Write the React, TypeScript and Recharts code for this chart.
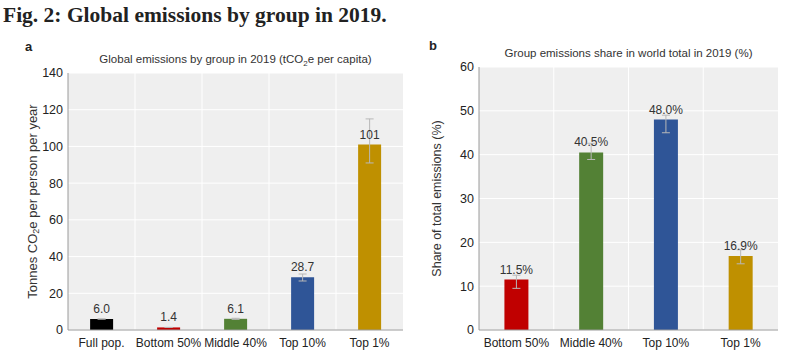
import React from 'react';
import {
  BarChart,
  Bar,
  XAxis,
  YAxis,
  CartesianGrid,
  ErrorBar,
  LabelList,
  Cell,
} from 'recharts';

// panel a: per-capita emissions
const groupsA = ['Full pop.', 'Bottom 50%', 'Middle 40%', 'Top 10%', 'Top 1%'];
const perCapita = [6.0, 1.4, 6.1, 28.7, 101];
const perCapitaLabels = ['6.0', '1.4', '6.1', '28.7', '101'];
const perCapitaErr = [
  [0, 0],
  [0, 0],
  [0.3, 0.3],
  [2, 1.8],
  [10, 14],
];
const colorsA = ['#000000', '#c00000', '#538135', '#2f5597', '#bf9000'];
const ticksA = [0, 20, 40, 60, 80, 100, 120, 140];

// panel b: share of world total
const groupsB = ['Bottom 50%', 'Middle 40%', 'Top 10%', 'Top 1%'];
const share = [11.5, 40.5, 48.0, 16.9];
const shareLabels = ['11.5%', '40.5%', '48.0%', '16.9%'];
const shareErr = [
  [2, 1],
  [1.6, 2.1],
  [3, 1],
  [1.8, 1.4],
];
const colorsB = ['#c00000', '#538135', '#2f5597', '#bf9000'];
const ticksB = [0, 10, 20, 30, 40, 50, 60];

const dataA = groupsA.map((g, i) => ({
  group: g,
  value: perCapita[i],
  label: perCapitaLabels[i],
  err: perCapitaErr[i],
}));
const dataB = groupsB.map((g, i) => ({
  group: g,
  value: share[i],
  label: shareLabels[i],
  err: shareErr[i],
}));

const FONT = '"Liberation Sans", Arial, sans-serif';
const PLOT_BG = '#efefef';
const BORDER = '#9a9a9a';

// vertical grid lines sit between the categories, not on them
const boundaries = (n: number) => (props: any) => {
  const { offset } = props;
  const out: number[] = [];
  for (let i = 1; i < n; i++) out.push(offset.left + (offset.width * i) / n);
  return out;
};

function YLabelA(props: any) {
  const { viewBox } = props;
  const cx = 32;
  const cy = viewBox.y + viewBox.height / 2;
  return (
    <text
      x={cx}
      y={cy}
      transform={`rotate(-90, ${cx}, ${cy})`}
      textAnchor="middle"
      dominantBaseline="central"
      fontSize={13}
      fill="#333"
      fontFamily={FONT}
    >
      Tonnes CO<tspan fontSize={9} dy={4}>2</tspan>
      <tspan dy={-4}>e per person per year</tspan>
    </text>
  );
}

function YLabelB(props: any) {
  const { viewBox } = props;
  const cx = 17;
  const cy = viewBox.y + viewBox.height / 2;
  return (
    <text
      x={cx}
      y={cy}
      transform={`rotate(-90, ${cx}, ${cy})`}
      textAnchor="middle"
      dominantBaseline="central"
      fontSize={12.5}
      fill="#333"
      fontFamily={FONT}
    >
      Share of total emissions (%)
    </text>
  );
}

export default function App() {
  return (
    <div
      style={{
        position: 'absolute',
        left: 0,
        top: 0,
        width: 812,
        height: 358,
        background: '#fff',
        fontFamily: FONT,
      }}
    >
      <div
        style={{
          position: 'absolute',
          left: 3,
          top: 3,
          fontFamily: '"Liberation Serif", serif',
          fontWeight: 'bold',
          fontSize: 21.5,
          color: '#222',
          whiteSpace: 'nowrap',
        }}
      >
        Fig. 2: Global emissions by group in 2019.
      </div>
      <div style={{ position: 'absolute', left: 25, top: 39, fontWeight: 'bold', fontSize: 13, color: '#222' }}>a</div>
      <div style={{ position: 'absolute', left: 429, top: 38, fontWeight: 'bold', fontSize: 13, color: '#222' }}>b</div>
      <div
        style={{
          position: 'absolute',
          left: 68,
          width: 335,
          top: 53,
          textAlign: 'center',
          fontSize: 11.5,
          color: '#333',
          whiteSpace: 'nowrap',
        }}
      >
        Global emissions by group in 2019 (tCO<sub style={{ fontSize: 8 }}>2</sub>e per capita)
      </div>
      <div
        style={{
          position: 'absolute',
          left: 479,
          width: 299,
          top: 47,
          textAlign: 'center',
          fontSize: 11.5,
          color: '#333',
          whiteSpace: 'nowrap',
        }}
      >
        Group emissions share in world total in 2019 (%)
      </div>

      <div style={{ position: 'absolute', left: 0, top: 0 }}>
        <BarChart
          width={420}
          height={358}
          data={dataA}
          margin={{ top: 73, right: 17, left: 0, bottom: 0 }}
          barCategoryGap="33%"
        >
          <CartesianGrid
            fill={PLOT_BG}
            stroke="#ffffff"
            strokeWidth={1}
            verticalCoordinatesGenerator={boundaries(groupsA.length)}
          />
          <XAxis
            dataKey="group"
            height={28}
            tickLine={false}
            axisLine={{ stroke: BORDER }}
            tick={{ fontSize: 12, fill: '#222' }}
            interval={0}
          />
          <XAxis xAxisId="top" orientation="top" dataKey="group" height={0} tick={false} tickLine={false} axisLine={{ stroke: BORDER }} />
          <YAxis
            width={68}
            domain={[0, 140]}
            ticks={ticksA}
            tickLine={false}
            tickSize={3}
            axisLine={{ stroke: BORDER }}
            tick={{ fontSize: 12.5, fill: '#222' }}
            label={<YLabelA />}
          />
          <YAxis yAxisId="right" orientation="right" width={0} domain={[0, 140]} tick={false} tickLine={false} axisLine={{ stroke: BORDER }} />
          <Bar dataKey="value" isAnimationActive={false}>
            {dataA.map((d, i) => (
              <Cell key={d.group} fill={colorsA[i]} />
            ))}
            <ErrorBar dataKey="err" width={4} stroke="#b8b8b8" strokeWidth={1} direction="y" />
            <LabelList dataKey="label" position="top" offset={6} fontSize={12} fill="#333" />
          </Bar>
        </BarChart>
      </div>

      <div style={{ position: 'absolute', left: 420, top: 0 }}>
        <BarChart
          width={392}
          height={358}
          data={dataB}
          margin={{ top: 67, right: 34, left: 0, bottom: 0 }}
          barCategoryGap="34%"
        >
          <CartesianGrid
            fill={PLOT_BG}
            stroke="#ffffff"
            strokeWidth={1}
            verticalCoordinatesGenerator={boundaries(groupsB.length)}
          />
          <XAxis
            dataKey="group"
            height={28}
            tickLine={false}
            axisLine={{ stroke: BORDER }}
            tick={{ fontSize: 12, fill: '#222' }}
            interval={0}
          />
          <XAxis xAxisId="top" orientation="top" dataKey="group" height={0} tick={false} tickLine={false} axisLine={{ stroke: BORDER }} />
          <YAxis
            width={59}
            domain={[0, 60]}
            ticks={ticksB}
            tickLine={false}
            tickSize={3}
            axisLine={{ stroke: BORDER }}
            tick={{ fontSize: 12.5, fill: '#222' }}
            label={<YLabelB />}
          />
          <YAxis yAxisId="right" orientation="right" width={0} domain={[0, 60]} tick={false} tickLine={false} axisLine={{ stroke: BORDER }} />
          <Bar dataKey="value" isAnimationActive={false}>
            {dataB.map((d, i) => (
              <Cell key={d.group} fill={colorsB[i]} />
            ))}
            <ErrorBar dataKey="err" width={4} stroke="#b8b8b8" strokeWidth={1} direction="y" />
            <LabelList dataKey="label" position="top" offset={6} fontSize={12} fill="#333" />
          </Bar>
        </BarChart>
      </div>
    </div>
  );
}
